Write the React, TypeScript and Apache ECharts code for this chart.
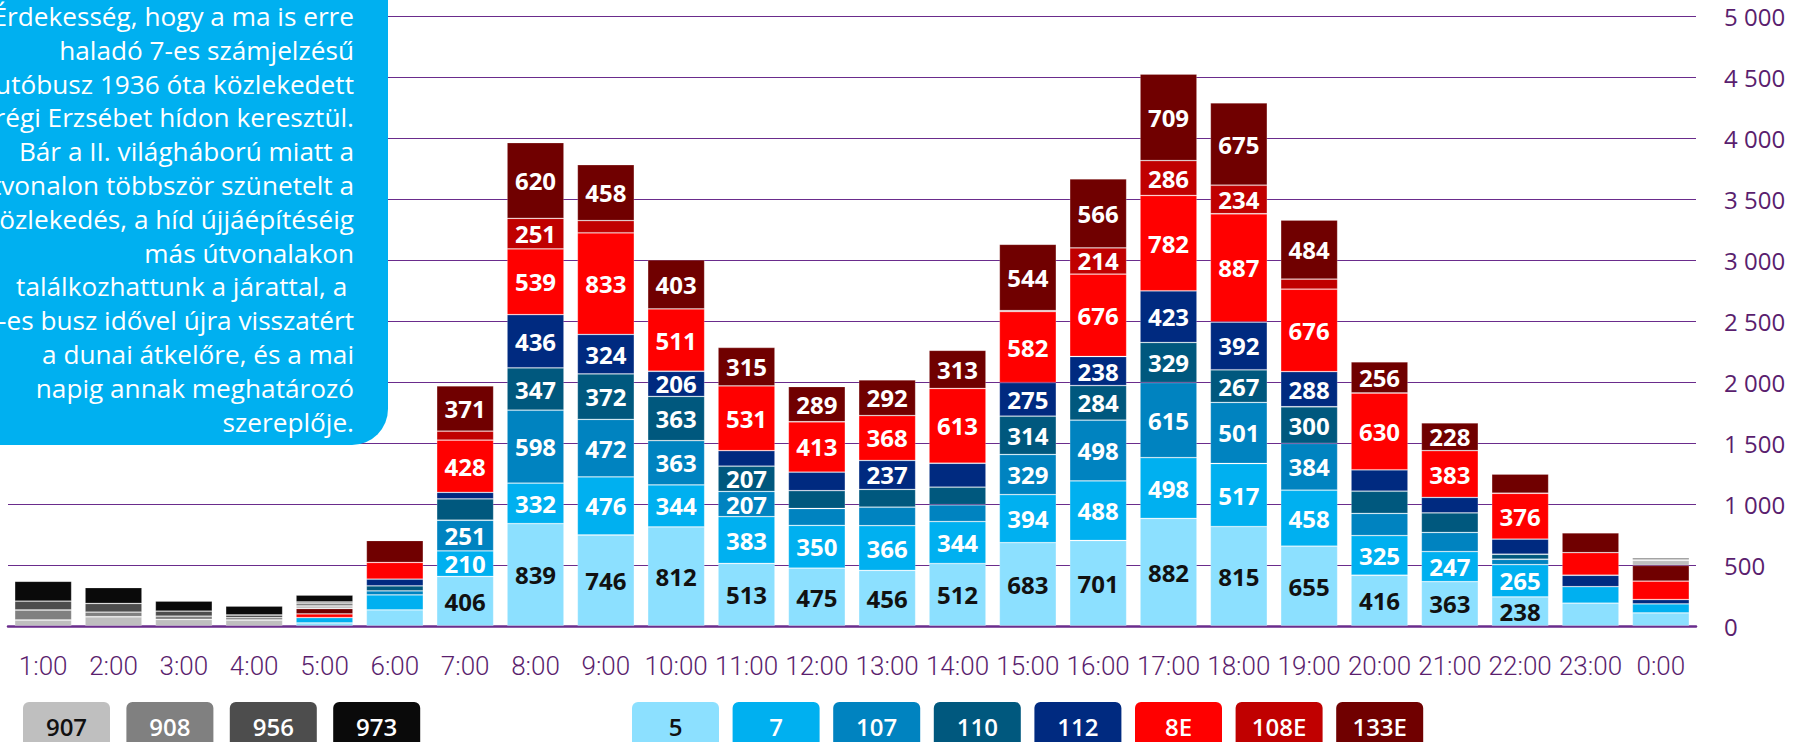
import React, { useEffect, useRef } from 'react';
import * as echarts from 'echarts';

const categories = ['1:00', '2:00', '3:00', '4:00', '5:00', '6:00', '7:00', '8:00', '9:00', '10:00', '11:00', '12:00', '13:00', '14:00', '15:00', '16:00', '17:00', '18:00', '19:00', '20:00', '21:00', '22:00', '23:00', '0:00'];

const yTicks = [0, 500, 1000, 1500, 2000, 2500, 3000, 3500, 4000, 4500, 5000];

const dayRoutes = ['5', '7', '107', '110', '112', '8E', '108E', '133E'];
const nightRoutes = ['907', '908', '956', '973'];

const dayColors = ['#8CE0FF', '#00B0F0', '#0083C0', '#00587E', '#002A80', '#FF0000', '#C00000', '#700000'];
const nightColors = ['#BFBFBF', '#808080', '#4D4D4D', '#0A0A0A'];
const dayText = ['#111111', '#FFFFFF', '#FFFFFF', '#FFFFFF', '#FFFFFF', '#FFFFFF', '#FFFFFF', '#FFFFFF'];
const nightText = ['#111111', '#FFFFFF', '#FFFFFF', '#FFFFFF'];

const s5 = [0, 0, 0, 0, 25, 132, 406, 839, 746, 812, 513, 475, 456, 512, 683, 701, 882, 815, 655, 416, 363, 238, 187, 107];
const s7 = [0, 0, 0, 0, 44, 123, 210, 332, 476, 344, 383, 350, 366, 344, 394, 488, 498, 517, 458, 325, 247, 265, 135, 74];
const s107 = [0, 0, 0, 0, 0, 33, 251, 598, 472, 363, 207, 138, 152, 138, 329, 498, 615, 501, 384, 182, 157, 44, 0, 0];
const s110 = [0, 0, 0, 0, 0, 41, 175, 347, 372, 363, 207, 146, 146, 144, 314, 284, 329, 267, 300, 182, 160, 41, 0, 0];
const s112 = [0, 0, 0, 0, 0, 55, 54, 436, 324, 206, 127, 152, 237, 196, 275, 238, 423, 392, 288, 175, 127, 124, 94, 36];
const s8E = [0, 0, 0, 0, 30, 137, 428, 539, 833, 511, 531, 413, 368, 613, 582, 676, 782, 887, 676, 630, 383, 376, 185, 151];
const s108E = [0, 0, 0, 0, 0, 0, 73, 251, 100, 0, 0, 0, 0, 0, 8, 214, 286, 234, 83, 0, 0, 0, 0, 0];
const s133E = [0, 0, 0, 0, 44, 180, 371, 620, 458, 403, 315, 289, 292, 313, 544, 566, 709, 675, 484, 256, 228, 157, 163, 129];
const s907 = [49, 76, 54, 49, 22, 0, 0, 0, 0, 0, 0, 0, 0, 0, 0, 0, 0, 0, 0, 0, 0, 0, 0, 41];
const s908 = [82, 38, 27, 19, 22, 0, 0, 0, 0, 0, 0, 0, 0, 0, 0, 0, 0, 0, 0, 0, 0, 0, 0, 11];
const s956 = [73, 71, 41, 22, 11, 0, 0, 0, 0, 0, 0, 0, 0, 0, 0, 0, 0, 0, 0, 0, 0, 0, 0, 0];
const s973 = [163, 130, 82, 73, 55, 0, 0, 0, 0, 0, 0, 0, 0, 0, 0, 0, 0, 0, 0, 0, 0, 0, 0, 11];

const dayValues = [s5, s7, s107, s110, s112, s8E, s108E, s133E];
const nightValues = [s907, s908, s956, s973];

const noteLines = [
  'Érdekesség, hogy a ma is erre',
  'haladó 7-es számjelzésű',
  'autóbusz 1936 óta közlekedett',
  'a régi Erzsébet hídon keresztül.',
  'Bár a II. világháború miatt a',
  'útvonalon többször szünetelt a',
  'közlekedés, a híd újjáépítéséig',
  'más útvonalakon',
  'találkozhattunk a járattal, a ',
  '7-es busz idővel újra visszatért',
  'a dunai átkelőre, és a mai',
  'napig annak meghatározó',
  'szereplője.',
];

const PURPLE_LINE = '#6A2C8C';
const PURPLE_TEXT = '#5A1E6E';

export default function App() {
  const ref = useRef<HTMLDivElement>(null);

  useEffect(() => {
    if (!ref.current) return;
    const chart = echarts.init(ref.current, undefined, { renderer: 'svg' });

    const names = [...dayRoutes, ...nightRoutes];
    const colors = [...dayColors, ...nightColors];
    const textColors = [...dayText, ...nightText];
    const values = [...dayValues, ...nightValues];

    const series = names.map((name, i) => ({
      name,
      type: 'bar',
      stack: 'total',
      barCategoryGap: '19%',
      data: values[i].map((v) => (v > 0 ? v : null)),
      itemStyle: { color: colors[i], borderColor: 'rgba(255,255,255,0.25)', borderWidth: 0.8 },
      label: {
        show: true,
        position: 'inside',
        formatter: (p: any) => (p.value >= 200 ? String(p.value) : ''),
        color: textColors[i],
        fontFamily: '"Open Sans", sans-serif',
        fontWeight: 'bold',
        fontSize: 24,
      },
      emphasis: { disabled: true },
    }));

    const legendItem = (name: string, x: number, color: string, tc: string) => [
      {
        type: 'rect',
        shape: { x, y: 702, width: 87, height: 60, r: [6, 6, 0, 0] },
        style: { fill: color },
        z: 20,
      },
      {
        type: 'text',
        x: x + 43.5,
        y: 726,
        style: {
          text: name,
          fill: tc,
          font: '600 24px "Open Sans", sans-serif',
          align: 'center',
          verticalAlign: 'middle',
          textAlign: 'center',
          textVerticalAlign: 'middle',
        },
        z: 21,
      },
    ];

    const graphic: any[] = [
      {
        type: 'rect',
        shape: { x: -40, y: -40, width: 428, height: 485, r: 36 },
        style: { fill: '#00B0F0' },
        z: 20,
      },
      ...noteLines.map((t, i) => ({
        type: 'text',
        x: 354,
        y: 16 + i * 33.8,
        style: {
          text: t,
          fill: '#FFFFFF',
          font: '26.2px "Open Sans", sans-serif',
          align: 'right',
          verticalAlign: 'middle',
          textAlign: 'right',
          textVerticalAlign: 'middle',
        },
        z: 21,
      })),
      ...nightRoutes.flatMap((n, i) => legendItem(n, 23 + i * 103.4, nightColors[i], nightText[i])),
      ...dayRoutes.flatMap((n, i) => legendItem(n, 632 + i * 100.6, dayColors[i], dayText[i])),
    ];

    chart.setOption({
      animation: false,
      backgroundColor: '#FFFFFF',
      grid: { left: 8, right: 110, top: 16, bottom: 116 },
      xAxis: {
        type: 'category',
        data: categories,
        axisLine: { show: true, lineStyle: { color: PURPLE_LINE, width: 2.5 } },
        axisTick: { show: false },
        axisLabel: {
          interval: 0,
          margin: 27,
          color: PURPLE_TEXT,
          fontSize: 26,
          fontWeight: 300,
          fontFamily: 'Roboto, "Open Sans", sans-serif',
        },
      },
      yAxis: {
        type: 'value',
        position: 'right',
        min: yTicks[0],
        max: yTicks[yTicks.length - 1],
        interval: yTicks[1] - yTicks[0],
        axisLine: { show: false },
        axisTick: { show: false },
        splitLine: { show: true, lineStyle: { color: PURPLE_LINE, width: 1.2 } },
        axisLabel: {
          margin: 28,
          color: PURPLE_TEXT,
          fontSize: 24,
          fontFamily: '"Open Sans", sans-serif',
          formatter: (v: number) => String(v).replace(/\B(?=(\d{3})+(?!\d))/g, ' '),
        },
      },
      series,
      graphic,
    });

    return () => chart.dispose();
  }, []);

  return (
    <div
      ref={ref}
      style={{ position: 'absolute', left: 0, top: 0, width: 1806, height: 742 }}
    />
  );
}
